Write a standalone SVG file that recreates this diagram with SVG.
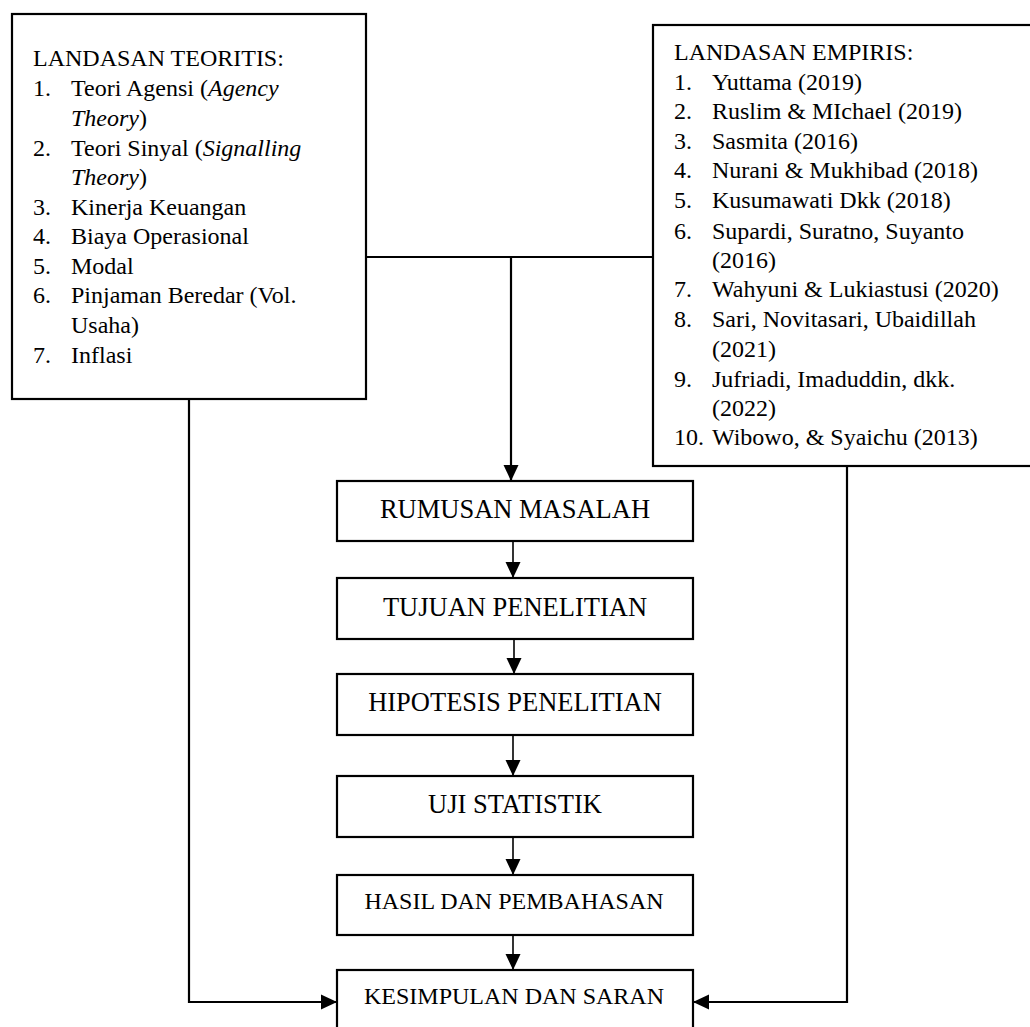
<svg xmlns="http://www.w3.org/2000/svg" width="1030" height="1027" viewBox="0 0 1030 1027">
<style>
.box{fill:#fff;stroke:#000;stroke-width:2.2}
.t{font-family:"Liberation Serif","Times New Roman",serif;font-size:24px;fill:#000}
.c{font-family:"Liberation Serif","Times New Roman",serif;font-size:26.5px;fill:#000;text-anchor:middle}
.cs{font-family:"Liberation Serif","Times New Roman",serif;font-size:24px;fill:#000;text-anchor:middle}
.ln{fill:none;stroke:#000;stroke-width:2.2}
.ar{fill:none;stroke:#000;stroke-width:1.6}
</style>
<defs>
<marker id="ah" markerUnits="userSpaceOnUse" markerWidth="16" markerHeight="16" viewBox="0 0 16 16" refX="16" refY="8" orient="auto">
<path d="M0,0.5 L16,8 L0,15.5 Z" fill="#000"/>
</marker>
</defs>
<rect width="1030" height="1027" fill="#fff"/>
<g id="connectors">
<path class="ln" d="M366,257 H653"/>
<path class="ln" d="M511,257 V481" marker-end="url(#ah)"/>
<path class="ar" d="M513,541 V578" marker-end="url(#ah)"/>
<path class="ar" d="M514,639 V674" marker-end="url(#ah)"/>
<path class="ar" d="M513,735 V776" marker-end="url(#ah)"/>
<path class="ar" d="M513,837 V875" marker-end="url(#ah)"/>
<path class="ar" d="M513,935 V970" marker-end="url(#ah)"/>
<path class="ln" d="M189,399 V1002 H337" marker-end="url(#ah)"/>
<path class="ln" d="M847,466 V1002 H693" marker-end="url(#ah)"/>
</g>
<g id="landasan-teoritis">
<rect class="box" x="12" y="14" width="354" height="385"/>
<text class="t" x="33" y="66">LANDASAN TEORITIS:</text>
<text class="t" x="33" y="96">1.</text><text class="t" x="71" y="96">Teori Agensi (<tspan font-style="italic">Agency</tspan></text>
<text class="t" x="71" y="126"><tspan font-style="italic">Theory</tspan>)</text>
<text class="t" x="33" y="156">2.</text><text class="t" x="71" y="156">Teori Sinyal (<tspan font-style="italic">Signalling</tspan></text>
<text class="t" x="71" y="185"><tspan font-style="italic">Theory</tspan>)</text>
<text class="t" x="33" y="215">3.</text><text class="t" x="71" y="215">Kinerja Keuangan</text>
<text class="t" x="33" y="244">4.</text><text class="t" x="71" y="244">Biaya Operasional</text>
<text class="t" x="33" y="274">5.</text><text class="t" x="71" y="274">Modal</text>
<text class="t" x="33" y="303">6.</text><text class="t" x="71" y="303">Pinjaman Beredar (Vol.</text>
<text class="t" x="71" y="333">Usaha)</text>
<text class="t" x="33" y="363">7.</text><text class="t" x="71" y="363">Inflasi</text>
</g>
<g id="landasan-empiris">
<rect class="box" x="653" y="25" width="380" height="441"/>
<text class="t" x="674" y="60">LANDASAN EMPIRIS:</text>
<text class="t" x="674" y="90">1.</text><text class="t" x="712" y="90">Yuttama (2019)</text>
<text class="t" x="674" y="119">2.</text><text class="t" x="712" y="119">Ruslim &amp; MIchael (2019)</text>
<text class="t" x="674" y="149">3.</text><text class="t" x="712" y="149">Sasmita (2016)</text>
<text class="t" x="674" y="178">4.</text><text class="t" x="712" y="178">Nurani &amp; Mukhibad (2018)</text>
<text class="t" x="674" y="208">5.</text><text class="t" x="712" y="208">Kusumawati Dkk (2018)</text>
<text class="t" x="674" y="239">6.</text><text class="t" x="712" y="239">Supardi, Suratno, Suyanto</text>
<text class="t" x="712" y="268">(2016)</text>
<text class="t" x="674" y="297">7.</text><text class="t" x="712" y="297">Wahyuni &amp; Lukiastusi (2020)</text>
<text class="t" x="674" y="327">8.</text><text class="t" x="712" y="327">Sari, Novitasari, Ubaidillah</text>
<text class="t" x="712" y="357">(2021)</text>
<text class="t" x="674" y="387">9.</text><text class="t" x="712" y="387">Jufriadi, Imaduddin, dkk.</text>
<text class="t" x="712" y="416">(2022)</text>
<text class="t" x="674" y="445">10.</text><text class="t" x="712" y="445">Wibowo, &amp; Syaichu (2013)</text>
</g>
<g id="rumusan-masalah">
<rect class="box" x="337" y="481" width="356" height="60"/>
<text class="c" x="515" y="518">RUMUSAN MASALAH</text>
</g>
<g id="tujuan-penelitian">
<rect class="box" x="337" y="578" width="356" height="61"/>
<text class="c" x="515" y="616">TUJUAN PENELITIAN</text>
</g>
<g id="hipotesis-penelitian">
<rect class="box" x="337" y="674" width="356" height="61"/>
<text class="c" x="515" y="711">HIPOTESIS PENELITIAN</text>
</g>
<g id="uji-statistik">
<rect class="box" x="337" y="776" width="356" height="61"/>
<text class="c" x="515" y="813">UJI STATISTIK</text>
</g>
<g id="hasil-dan-pembahasan">
<rect class="box" x="337" y="875" width="356" height="60"/>
<text class="cs" x="514" y="909">HASIL DAN PEMBAHASAN</text>
</g>
<g id="kesimpulan-dan-saran">
<rect class="box" x="337" y="970" width="356" height="70"/>
<text class="cs" x="514" y="1004">KESIMPULAN DAN SARAN</text>
</g>
</svg>
